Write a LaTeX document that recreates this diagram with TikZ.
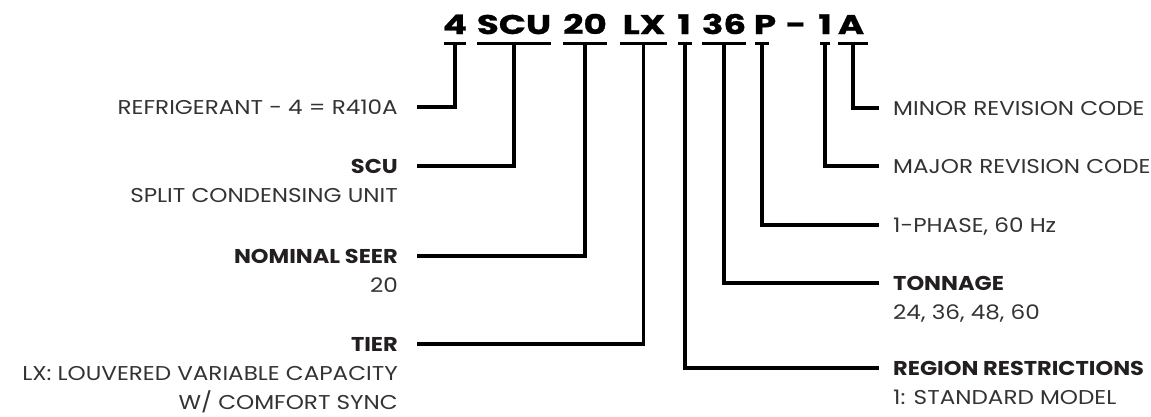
\documentclass[tikz,border=0pt]{standalone}
\usepackage{fontspec}
\setmainfont{Poppins}
\newfontfamily\lblfont{Poppins}[FakeStretch=1.155]
\newfontfamily\ttlfont{Poppins}[FakeStretch=1.125]
\newfontfamily\codefont{Poppins}[FakeStretch=1.32,FakeBold=1]
\definecolor{txtgray}{HTML}{333333}
\definecolor{ttlblack}{HTML}{231F20}
\begin{document}
\begin{tikzpicture}[x=1pt,y=1pt,
  lbl/.style={font=\lblfont\fontsize{20}{22}\selectfont, text=txtgray, inner sep=0pt},
  ttl/.style={font=\ttlfont\fontsize{20}{22}\selectfont\bfseries, text=ttlblack, inner sep=0pt},
  code/.style={font=\codefont\fontsize{27}{29}\selectfont\bfseries, text=black, inner sep=0pt, anchor=base},
  bar/.style={fill=black, inner sep=0pt, minimum height=3pt},
  conn/.style={line width=3.8pt, draw=black}]
\useasboundingbox (0,0) rectangle (1151,-416);
% code letters
\node[code] (k4)   at (455,-34) {4};
\node[code] (kSCU) at (514,-34) {SCU};
\node[code] (k20)  at (585,-34) {20};
\node[code] (kLX)  at (644,-34) {LX};
\node[code] (k1a)  at (684,-34) {1};
\node[code] (k36)  at (724,-34) {36};
\node[code] (kP)   at (765,-34) {P};
\node[code] (kdash) at (796,-34) {-};
\node[code] (k1b)  at (825,-34) {1};
\node[code] (kA)   at (851,-34) {A};
% bars
\node[bar, minimum width=22pt] (b4)   at (455,-43.5) {};
\node[bar, minimum width=74pt] (bSCU) at (514,-43.5) {};
\node[bar, minimum width=44pt] (b20)  at (585,-43.5) {};
\node[bar, minimum width=47pt] (bLX)  at (643.5,-43.5) {};
\node[bar, minimum width=14pt] (b1a)  at (685,-43.5) {};
\node[bar, minimum width=44pt] (b36)  at (724,-43.5) {};
\node[bar, minimum width=14pt] (bP)   at (762,-43.5) {};
\node[bar, minimum width=10pt] (b1b)  at (825,-43.5) {};
\node[bar, minimum width=30pt] (bA)   at (853,-43.5) {};
% connector ends
\coordinate (e4)   at (417,-107);
\coordinate (eSCU) at (417,-166);
\coordinate (e20)  at (417,-256);
\coordinate (eLX)  at (417,-344);
\coordinate (e1a)  at (879,-368);
\coordinate (e36)  at (879,-283);
\coordinate (eP)   at (879,-225);
\coordinate (e1b)  at (879,-166);
\coordinate (eA)   at (879,-108);
% connectors
\draw[conn] (b4.center)   |- (e4);
\draw[conn] (bSCU.center) |- (eSCU);
\draw[conn] (b20.center)  |- (e20);
\draw[conn] (bLX.center)  |- (eLX);
\draw[conn] (b1a.center)  |- (e1a);
\draw[conn] (b36.center)  |- (e36);
\draw[conn] (bP.center)   |- (eP);
\draw[conn] (b1b.center)  |- (e1b);
\draw[conn] (bA.center)   |- (eA);
% left labels
\node[lbl, anchor=base east] (l4) at ([xshift=-19pt,yshift=-7pt]e4) {REFRIGERANT - 4 = R410A};
\node[ttl, anchor=base east] (lSCU) at ([xshift=-19pt,yshift=-7pt]eSCU) {SCU};
\node[lbl, anchor=base east] (lSCU2) at ([yshift=-29pt]lSCU.base east) {SPLIT CONDENSING UNIT};
\node[ttl, anchor=base east] (l20) at ([xshift=-19pt,yshift=-7pt]e20) {NOMINAL SEER};
\node[lbl, anchor=base east] (l202) at ([yshift=-29pt]l20.base east) {20};
\node[ttl, anchor=base east] (lLX) at ([xshift=-19pt,yshift=-7pt]eLX) {TIER};
\node[lbl, anchor=base east] (lLX2) at ([yshift=-29pt]lLX.base east) {LX: LOUVERED VARIABLE CAPACITY};
\node[lbl, anchor=base east] (lLX3) at ([yshift=-29pt]lLX2.base east) {W/ COMFORT SYNC};
% right labels
\node[lbl, anchor=base west] (rA) at ([xshift=14pt,yshift=-7pt]eA) {MINOR REVISION CODE};
\node[lbl, anchor=base west] (r1b) at ([xshift=14pt,yshift=-7pt]e1b) {MAJOR REVISION CODE};
\node[lbl, anchor=base west] (rP) at ([xshift=14pt,yshift=-7pt]eP) {1-PHASE, 60 Hz};
\node[ttl, anchor=base west] (r36) at ([xshift=14pt,yshift=-7pt]e36) {TONNAGE};
\node[lbl, anchor=base west] (r362) at ([yshift=-29pt]r36.base west) {24, 36, 48, 60};
\node[ttl, anchor=base west] (r1a) at ([xshift=14pt,yshift=-7pt]e1a) {REGION RESTRICTIONS};
\node[lbl, anchor=base west] (r1a2) at ([yshift=-29pt]r1a.base west) {1: STANDARD MODEL};
\end{tikzpicture}
\end{document}
